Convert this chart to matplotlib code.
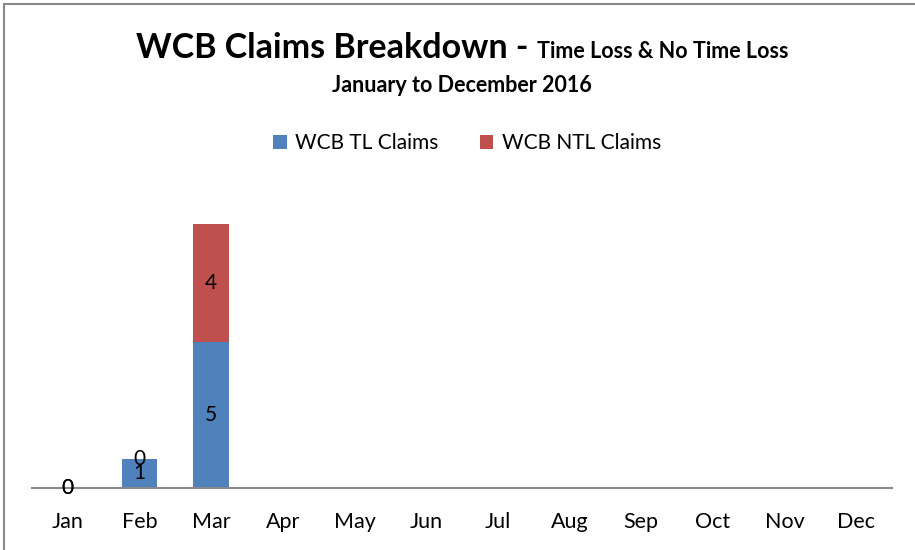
import numpy as np
import matplotlib.pyplot as plt
from matplotlib.patches import Rectangle

months = ['Jan', 'Feb', 'Mar', 'Apr', 'May', 'Jun',
          'Jul', 'Aug', 'Sep', 'Oct', 'Nov', 'Dec']
# only the months with data so far
tl_claims = [0, 1, 5]
ntl_claims = [0, 0, 4]

BLUE = '#4F81BD'
RED = '#C0504D'
GREY = '#898989'

plt.rcParams['font.family'] = ['Lato', 'DejaVu Sans']

fig = plt.figure(figsize=(9.15, 5.5), dpi=100)
W, H = 915, 550

# chart border (right and bottom edges run off the picture)
fig.patches.append(Rectangle((4 / W, -0.1), 1.1, 1 - 4 / H + 0.1,
                             transform=fig.transFigure, fill=False,
                             edgecolor=GREY, linewidth=1.5))

ax = fig.add_axes([32 / W, 62 / H, 860 / W, 293 / H])
x = np.arange(len(tl_claims))
b1 = ax.bar(x, tl_claims, width=0.5, color=BLUE, label='WCB TL Claims')
b2 = ax.bar(x, ntl_claims, width=0.5, bottom=tl_claims, color=RED,
            label='WCB NTL Claims')
ax.bar_label(b1, label_type='center', fontsize=15)
ax.bar_label(b2, label_type='center', fontsize=15)

ax.set_xlim(-0.5, len(months) - 0.5)
ax.set_ylim(0, 10)
ax.set_xticks(np.arange(len(months)))
ax.set_xticklabels(months)
ax.set_yticks([])
ax.tick_params(axis='x', length=0, pad=17, labelsize=15.5)
for s in ['top', 'right', 'left']:
    ax.spines[s].set_visible(False)
ax.spines['bottom'].set_color(GREY)
ax.spines['bottom'].set_linewidth(1.5)

# title: big part + small part on one line, centred together
t1 = fig.text(0, 1 - 58 / H, 'WCB Claims Breakdown - ', fontsize=24.5,
              fontweight='bold', va='baseline', ha='left')
t2 = fig.text(0, 1 - 58 / H, 'Time Loss & No Time Loss', fontsize=15.5,
              fontweight='bold', va='baseline', ha='left')
fig.canvas.draw()
r = fig.canvas.get_renderer()
w1 = t1.get_window_extent(r).width
w2 = t2.get_window_extent(r).width
x0 = 462 - (w1 + w2) / 2
t1.set_x(x0 / W)
t2.set_x((x0 + w1) / W)
fig.text(462 / W, 1 - 92 / H, 'January to December 2016', fontsize=15.5,
         fontweight='bold', va='baseline', ha='center')

fig.legend(handles=[b1, b2], loc='center', bbox_to_anchor=(467 / W, 1 - 143 / H),
           ncol=2, frameon=False, fontsize=15, handlelength=0.65,
           handleheight=0.65, handletextpad=0.4, columnspacing=2.0)

fig.savefig('out.png', dpi=100)
